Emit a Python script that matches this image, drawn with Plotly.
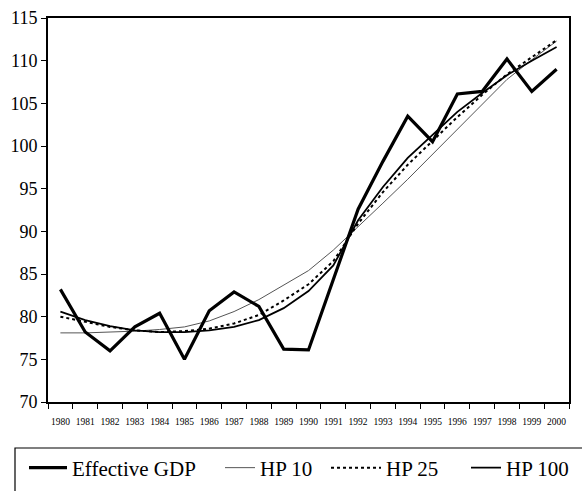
import plotly.graph_objects as go

years = [str(y) for y in range(1980, 2001)]

effective_gdp = [83.2, 78.2, 76.0, 78.8, 80.4, 75.0, 80.7, 82.9, 81.2, 76.2, 76.1,
                 84.4, 92.6, 98.2, 103.5, 100.5, 106.1, 106.4, 110.2, 106.4, 109.0]
hp10 = [78.1, 78.1, 78.2, 78.3, 78.5, 78.8, 79.5, 80.6, 82.0, 83.7, 85.4,
        87.8, 90.5, 93.3, 96.1, 99.0, 102.0, 104.9, 107.8, 110.1, 112.3]
hp25 = [80.0, 79.4, 78.8, 78.4, 78.2, 78.3, 78.6, 79.2, 80.2, 81.9, 83.8,
        86.5, 90.9, 94.6, 97.8, 100.6, 103.4, 106.0, 108.4, 110.4, 112.4]
hp100 = [80.6, 79.6, 78.9, 78.4, 78.2, 78.2, 78.4, 78.8, 79.6, 81.0, 83.0,
         86.0, 91.3, 95.2, 98.6, 101.3, 104.0, 106.2, 108.3, 110.0, 111.6]

y_ticks = [70, 75, 80, 85, 90, 95, 100, 105, 110, 115]

FONT = "Liberation Serif"

fig = go.Figure()
fig.add_trace(go.Scatter(x=years, y=hp10, mode="lines", name="HP 10",
                         line=dict(color="#555555", width=1), legend="legend2"))
fig.add_trace(go.Scatter(x=years, y=hp25, mode="lines", name="HP 25",
                         line=dict(color="black", width=2, dash="dot"), legend="legend3"))
fig.add_trace(go.Scatter(x=years, y=hp100, mode="lines", name="HP 100",
                         line=dict(color="black", width=1.8), legend="legend4"))
fig.add_trace(go.Scatter(x=years, y=effective_gdp, mode="lines", name="Effective GDP",
                         line=dict(color="black", width=3.2), legend="legend"))

def leg(xpx, itemwidth=30):
    return dict(x=(xpx - 48) / 521, y=(402 - 468) / 384, xanchor="left", yanchor="middle",
                orientation="h", bgcolor="rgba(0,0,0,0)", borderwidth=0,
                itemwidth=itemwidth,
                font=dict(family=FONT, size=21, color="black"))

fig.update_layout(
    width=582, height=491,
    margin=dict(l=48, r=13, t=18, b=89, autoexpand=False),
    paper_bgcolor="white", plot_bgcolor="white",
    font=dict(family=FONT, color="black"),
    showlegend=True,
    legend=leg(24, 38), legend2=leg(220), legend3=leg(326, 50), legend4=leg(466),
    xaxis=dict(type="category", range=[-0.5, 20.5], tickson="boundaries",
               ticks="outside", ticklen=5, tickcolor="black", tickwidth=1,
               showline=True, linecolor="black", linewidth=1.5, mirror=True,
               showgrid=False, zeroline=False, tickangle=0, automargin=False,
               tickfont=dict(family=FONT, size=9.5, color="black"), ticklabelstandoff=10),
    yaxis=dict(range=[70, 115], tickvals=y_ticks, ticks="outside", ticklen=5,
               tickcolor="black", tickwidth=1, automargin=False,
               showline=True, linecolor="black", linewidth=2, mirror=True,
               showgrid=False, zeroline=False,
               tickfont=dict(family=FONT, size=18, color="black")),
    shapes=[dict(type="rect", xref="paper", yref="paper",
                 x0=(15 - 48) / 521, x1=1.2, y0=(402 - 520) / 384, y1=(402 - 448) / 384,
                 line=dict(color="black", width=1.2), fillcolor="rgba(0,0,0,0)")],
)

fig.write_html("out.html")
